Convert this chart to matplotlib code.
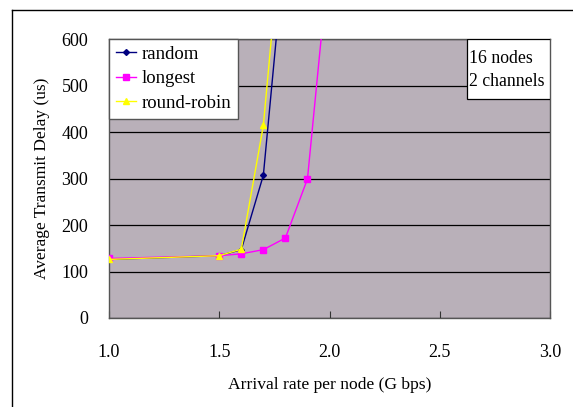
import matplotlib
matplotlib.use("Agg")
import matplotlib.pyplot as plt
from matplotlib.lines import Line2D
from matplotlib.patches import Rectangle

plt.rcParams["font.family"] = ["Liberation Serif", "DejaVu Serif"]

# data
rate_random = [1.0, 1.5, 1.6, 1.7, 1.8]
delay_random = [126, 134, 147, 307, 810]

rate_longest = [1.0, 1.5, 1.6, 1.7, 1.8, 1.9, 2.0]
delay_longest = [128, 134, 138, 147, 172, 299, 785]

rate_rr = [1.0, 1.5, 1.6, 1.7, 1.8]
delay_rr = [126, 134, 148, 414, 930]

x_ticks = [1.0, 1.5, 2.0, 2.5, 3.0]
y_ticks = [0, 100, 200, 300, 400, 500, 600]

fig = plt.figure(figsize=(5.73, 4.07), dpi=100)
ax = fig.add_axes([109 / 573, 1 - 318 / 407, 441 / 573, 279 / 407])
ax.set_facecolor("#B9B0B9")

ax.plot(rate_random, delay_random, color="#000080", lw=1, marker="D",
        markersize=3, label="random", zorder=3)
ax.plot(rate_longest, delay_longest, color="#FF00FF", lw=1, marker="s",
        markersize=4.5, label="longest", zorder=3)
ax.plot(rate_rr, delay_rr, color="#FFFF00", lw=1, marker="^",
        markersize=4.5, label="round-robin", zorder=4)

ax.set_xlim(1.0, 3.0)
ax.set_ylim(0, 600)
ax.set_xticks(x_ticks)
ax.set_xticklabels([f"{v:.1f}" for v in x_ticks])
ax.set_yticks(y_ticks)
ax.tick_params(axis="x", direction="in", length=5, pad=19, labelsize=13, color="#333333")
ax.tick_params(axis="y", length=0, pad=15, labelsize=13)
ax.grid(axis="y", color="black", lw=0.9, zorder=1)
for s in ax.spines.values():
    s.set_color("#555555")
    s.set_linewidth(1)

ax.set_xlabel("Arrival rate per node (G bps)", fontsize=12.6, labelpad=11)
ax.set_ylabel("Average Transmit Delay (us)", fontsize=12.5, labelpad=8)

leg = ax.legend(loc="upper left", fontsize=13.5, frameon=True, fancybox=False,
                borderaxespad=0, handlelength=1.1, handletextpad=0.3,
                labelspacing=0.4, borderpad=0.35)
leg.get_frame().set_edgecolor("#555555")
leg.get_frame().set_linewidth(1)
leg.get_frame().set_alpha(1)

# "16 nodes / 2 channels" box in the top right corner
box = Rectangle((0.812, 0.785), 0.188, 0.215, transform=ax.transAxes,
                facecolor="white", edgecolor="black", lw=0.9, zorder=5)
ax.add_patch(box)
ax.text(0.817, 0.888, "16 nodes\n2 channels", transform=ax.transAxes,
        ha="left", va="center", fontsize=12.8, linespacing=1.5, zorder=6)

# outer page frame
fig.add_artist(Line2D([12 / 573, 12 / 573], [0, 1 - 10 / 407], color="black", lw=1))
fig.add_artist(Line2D([12 / 573, 1], [1 - 10 / 407, 1 - 10 / 407], color="black", lw=1))

fig.savefig("out.png", dpi=100)
